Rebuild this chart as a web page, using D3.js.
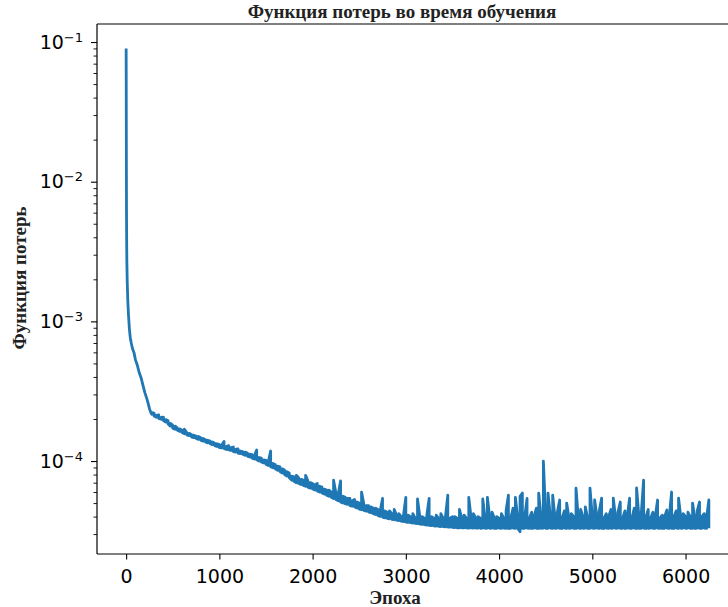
<!DOCTYPE html>
<html>
<head>
<meta charset="utf-8">
<script src="https://cdn.jsdelivr.net/npm/d3@7"></script>
<style>
  html, body { margin: 0; padding: 0; background: #fff; }
  svg { display: block; }
  .tl { font-family: "DejaVu Sans", sans-serif; font-size: 19px; fill: #000; }
  .lab { font-family: "Liberation Serif", "Times New Roman", serif; font-weight: bold; font-size: 19px; fill: #222; }
</style>
</head>
<body>
<svg id="chart"></svg>
<script>
/* Training loss curve, log y axis. */
(function () {
  "use strict";
  var W = 728, H = 607;
  var M = { left: 97, top: 24, bottom: 554, right: 738 };

  // axis setup
  var xDomain = [-312.5, 6562.5];
  var yDomain = [2.16e-5, 0.1346];
  var xTicks = [0, 1000, 2000, 3000, 4000, 5000, 6000];
  var yMajor = [1e-1, 1e-2, 1e-3, 1e-4];
  var yExp = ["\u22121", "\u22122", "\u22123", "\u22124"];

  // steep start of training (epoch, loss)
  var headEpoch = [0, 1, 2, 3, 4, 6, 8, 12, 18, 25, 35, 45, 55, 68, 85, 100, 120, 140, 160, 180, 200, 225, 250, 265];
  var headLoss = [0.09, 0.05, 0.02, 0.0105, 0.006, 0.0035, 0.0026, 0.0019, 0.0014, 0.00112, 0.00088, 0.00076, 0.0007, 0.00064,
    0.000595, 0.00053, 0.000485, 0.00043, 0.000395, 0.00035, 0.00031, 0.000275, 0.000238, 0.000222];

  // noisy part: every 25 epochs from 275 to 6250, floor and top of the noise, in units of 1e-5
  var bandStart = 275, bandStep = 25;
  var bandLowE5 = [
    21.6, 21.0, 20.6, 20.2, 19.9, 19.5, 19.0, 18.4, 17.8, 17.2,
    16.9, 16.6, 16.3, 16.0, 15.7, 15.4, 15.2, 14.9, 14.7, 14.5,
    14.3, 14.1, 13.9, 13.7, 13.5, 13.3, 13.1, 12.9, 12.7, 12.5,
    12.4, 12.3, 12.1, 12.0, 11.9, 11.7, 11.6, 11.4, 11.3, 11.2,
    11.0, 10.85, 10.7, 10.5, 10.35, 10.2, 10.0, 9.85, 9.7, 9.5,
    9.3, 9.1, 8.95, 8.8, 8.6, 8.4, 8.2, 8.0, 7.8, 7.6,
    7.3, 7.15, 7.0, 6.9, 6.8, 6.7, 6.6, 6.5, 6.4, 6.3,
    6.2, 6.1, 6.0, 5.9, 5.8, 5.7, 5.6, 5.5, 5.4, 5.3,
    5.2, 5.1, 5.0, 4.95, 4.9, 4.8, 4.75, 4.7, 4.6, 4.53,
    4.48, 4.43, 4.38, 4.32, 4.26, 4.2, 4.14, 4.08, 4.02, 3.97,
    3.92, 3.89, 3.86, 3.83, 3.8, 3.77, 3.74, 3.71, 3.69, 3.66,
    3.64, 3.62, 3.6, 3.58, 3.56, 3.54, 3.52, 3.5, 3.48, 3.46,
    3.45, 3.44, 3.42, 3.41, 3.4, 3.39, 3.38, 3.37, 3.36, 3.35,
    3.34, 3.33, 3.32, 3.33, 3.32, 3.32, 3.31, 3.32, 3.31, 3.31,
    3.31, 3.30, 3.31, 3.30, 3.31, 3.30, 3.31, 3.29, 3.30, 3.31,
    3.30, 3.31, 3.30, 3.29, 3.30, 3.31, 3.30, 3.29, 3.12, 3.30,
    3.30, 3.31, 3.30, 3.29, 3.31, 3.30, 3.29, 3.30, 3.31, 3.30,
    3.30, 3.31, 3.30, 3.30, 3.31, 3.30, 3.29, 3.31, 3.30, 3.30,
    3.31, 3.30, 3.29, 3.31, 3.30, 3.30, 3.31, 3.29, 3.30, 3.31,
    3.30, 3.31, 3.30, 3.30, 3.29, 3.31, 3.30, 3.30, 3.31, 3.30,
    3.31, 3.30, 3.30, 3.29, 3.31, 3.30, 3.30, 3.31, 3.29, 3.30,
    3.30, 3.31, 3.29, 3.30, 3.31, 3.30, 3.30, 3.31, 3.30, 3.29,
    3.30, 3.31, 3.30, 3.30, 3.29, 3.31, 3.30, 3.30, 3.31, 3.30,
    3.31, 3.30, 3.30, 3.29, 3.31, 3.30, 3.30, 3.31, 3.30, 3.30
  ];
  var bandHighE5 = [
    22.2, 22.0, 21.2, 21.4, 20.5, 20.6, 19.8, 19.4, 18.6, 18.0,
    17.8, 17.2, 17.0, 16.6, 16.9, 16.0, 15.8, 15.5, 15.3, 15.1,
    15.0, 14.7, 14.5, 14.2, 14.1, 13.9, 13.7, 13.4, 13.3, 13.1,
    13.0, 13.8, 12.7, 12.9, 12.5, 12.6, 12.1, 12.2, 11.8, 11.7,
    11.6, 11.4, 11.2, 11.1, 10.9, 12.0, 10.6, 10.5, 10.2, 10.1,
    9.9, 11.8, 9.6, 9.4, 9.2, 9.1, 8.8, 8.6, 8.4, 8.2,
    7.8, 7.7, 7.9, 7.6, 7.4, 7.3, 7.9, 7.2, 7.0, 6.9,
    6.8, 6.9, 6.6, 6.5, 6.3, 6.2, 6.2, 6.0, 7.3, 5.9,
    5.8, 7.2, 5.6, 5.5, 5.4, 5.4, 5.2, 5.3, 5.1, 5.0,
    6.0, 4.9, 4.8, 4.8, 4.7, 4.6, 4.6, 4.5, 4.4, 5.4,
    4.4, 4.3, 4.4, 4.2, 4.5, 4.1, 4.2, 4.0, 4.1, 5.5,
    4.1, 4.0, 4.2, 3.9, 5.35, 4.0, 4.0, 3.9, 4.1, 5.4,
    4.0, 3.9, 4.1, 3.9, 4.2, 3.9, 4.0, 5.7, 3.9, 4.0,
    4.0, 3.9, 4.5, 3.9, 4.1, 3.9, 5.5, 3.9, 4.2, 3.9,
    4.0, 3.9, 5.35, 3.9, 5.5, 3.9, 4.3, 3.9, 4.0, 3.9,
    4.2, 3.9, 4.4, 5.7, 3.9, 4.6, 5.5, 3.9, 5.6, 5.9,
    4.0, 5.4, 3.9, 4.3, 4.0, 4.6, 5.9, 4.0, 10.0, 4.0,
    5.9, 4.0, 5.7, 3.9, 4.3, 5.26, 3.9, 4.4, 5.0, 3.9,
    4.2, 4.0, 6.4, 3.9, 4.5, 4.0, 4.7, 3.9, 6.4, 4.0,
    5.26, 4.0, 4.4, 5.43, 3.9, 4.2, 4.0, 4.5, 5.43, 3.9,
    4.3, 5.09, 3.9, 4.4, 4.0, 5.43, 3.9, 4.6, 6.41, 4.0,
    4.2, 7.31, 4.0, 4.5, 3.9, 4.3, 4.0, 5.26, 3.9, 4.1,
    4.0, 4.46, 3.9, 6.0, 4.0, 4.4, 5.43, 3.9, 4.2, 4.0,
    4.3, 4.0, 5.0, 3.9, 4.4, 5.09, 4.0, 4.2, 3.9, 5.26
  ];

  // path visits floor and top of each reading, alternating so the noise fills in
  var pts = headEpoch.map(function (e, i) { return [e, headLoss[i]]; });
  bandLowE5.forEach(function (lo, i) {
    var e = bandStart + i * bandStep, hi = bandHighE5[i];
    if (i % 2 === 0) { pts.push([e, lo * 1e-5]); pts.push([e, hi * 1e-5]); }
    else { pts.push([e, hi * 1e-5]); pts.push([e, lo * 1e-5]); }
  });

  var svg = d3.select("#chart").attr("width", W).attr("height", H);
  svg.append("rect").attr("width", W).attr("height", H).attr("fill", "#fff");

  var x = d3.scaleLinear().domain(xDomain).range([M.left, M.right]);
  var y = d3.scaleLog().domain(yDomain).range([M.bottom, M.top]);

  svg.append("clipPath").attr("id", "plotclip").append("rect")
    .attr("x", M.left).attr("y", M.top).attr("width", M.right - M.left).attr("height", M.bottom - M.top);

  var line = d3.line().x(function (d) { return x(d[0]); }).y(function (d) { return y(d[1]); });
  svg.append("path").datum(pts).attr("clip-path", "url(#plotclip)")
    .attr("d", line).attr("fill", "none").attr("stroke", "#1f77b4")
    .attr("stroke-width", 2.8).attr("stroke-linejoin", "round").attr("stroke-linecap", "butt");

  // x axis
  var gx = svg.append("g").attr("transform", "translate(0," + M.bottom + ")")
    .call(d3.axisBottom(x).tickValues(xTicks).tickSize(5.5).tickPadding(10.5).tickFormat(d3.format("d")));
  gx.select(".domain").remove();
  gx.selectAll(".tick line").attr("stroke", "#000").attr("stroke-width", 1.1);
  gx.selectAll(".tick text").attr("class", "tl").attr("font-size", null).attr("font-family", null).attr("fill", null);

  // y axis, major + minor ticks
  var minors = [];
  [1e-5, 1e-4, 1e-3, 1e-2].forEach(function (b) {
    for (var k = 2; k <= 9; k++) { var v = k * b; if (v >= yDomain[0] && v <= yDomain[1]) minors.push(v); }
  });
  var gyMin = svg.append("g").attr("transform", "translate(" + M.left + ",0)")
    .call(d3.axisLeft(y).tickValues(minors).tickSize(3.5).tickFormat(""));
  gyMin.select(".domain").remove();
  gyMin.selectAll(".tick line").attr("stroke", "#000").attr("stroke-width", 0.9);

  var gy = svg.append("g").attr("transform", "translate(" + M.left + ",0)")
    .call(d3.axisLeft(y).tickValues(yMajor).tickSize(6).tickFormat(""));
  gy.select(".domain").remove();
  gy.selectAll(".tick line").attr("stroke", "#000").attr("stroke-width", 1.1);

  var yl = svg.append("g").selectAll("text").data(yMajor).enter().append("text")
    .attr("class", "tl").attr("text-anchor", "end")
    .attr("x", M.left - 14).attr("y", function (d) { return y(d) + 6.5; });
  yl.append("tspan").text("10");
  yl.append("tspan").attr("font-size", "13px").attr("dy", -7).text(function (d, i) { return yExp[i]; });

  // spines (right one sits just past the window edge)
  var sp = svg.append("g").attr("stroke", "#000").attr("stroke-width", 1.2).attr("fill", "none");
  sp.append("line").attr("x1", M.left).attr("x2", M.left).attr("y1", M.top).attr("y2", M.bottom);
  sp.append("line").attr("x1", M.left).attr("x2", M.right).attr("y1", M.top).attr("y2", M.top);
  sp.append("line").attr("x1", M.left).attr("x2", M.right).attr("y1", M.bottom).attr("y2", M.bottom);
  sp.append("line").attr("x1", M.right).attr("x2", M.right).attr("y1", M.top).attr("y2", M.bottom);

  // labels
  svg.append("text").attr("class", "lab").attr("text-anchor", "middle")
    .attr("x", 402).attr("y", 18).text("Функция потерь во время обучения");
  svg.append("text").attr("class", "lab").attr("text-anchor", "middle")
    .attr("x", 395).attr("y", 604).text("Эпоха");
  svg.append("text").attr("class", "lab").attr("text-anchor", "middle")
    .attr("transform", "translate(25.5,278) rotate(-90)").text("Функция потерь");
})();
</script>
</body>
</html>
